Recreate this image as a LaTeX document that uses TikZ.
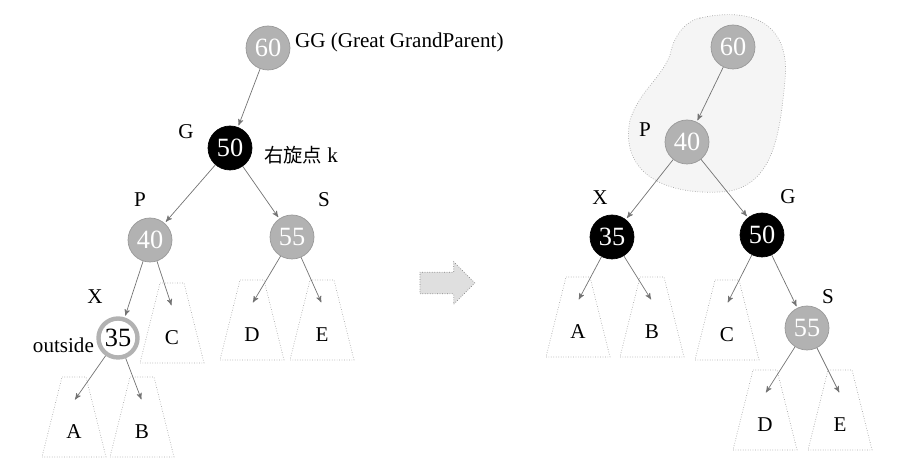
\documentclass[tikz,border=0pt]{standalone}
\usepackage{fontspec}
\setmainfont{Liberation Serif}
\newfontfamily\cjk{Noto Sans CJK SC}
\usetikzlibrary{arrows,shapes.arrows}

\newcommand{\subtree}[4]{% name, x, y (top), label
  \draw[tri] (#2-12,#3) -- (#2+12,#3) -- (#2+32,#3+80) -- (#2-32,#3+80) -- cycle;
  \node[leaf] (#1) at (#2,#3+55) {#4};
  \coordinate (#1-in) at (#2,#3+24);
}

\begin{document}
\begin{tikzpicture}[
x=0.02cm, y=-0.02cm,
every node/.style={font=\fontsize{12}{14}\selectfont},
rednode/.style={
  circle,
  draw=gray!80,
  fill=gray!60,
  text=white,
  minimum size=0.88cm,
  inner sep=0pt,
  font=\fontsize{15}{16}\selectfont
  },
blknode/.style={
  rednode,
  draw=black,
  fill=black
  },
ring/.style={
  rednode,
  draw=gray!60,
  line width=2.5pt,
  fill=white,
  text=black,
  minimum size=0.78cm
  },
tri/.style={
  draw=gray!70,
  densely dotted
  },
leaf/.style={
  inner sep=1pt
  },
lbl/.style={
  inner sep=1pt
  },
edge/.style={
  ->,
  draw=gray!90!black,
  shorten >=1pt
  },
>=stealth'
]
\useasboundingbox (0,0) rectangle (912,475);
% left tree
\subtree{ta}{74}{377}{A}
\subtree{tb}{142}{377}{B}
\subtree{tc}{172}{283}{C}
\subtree{td}{252}{280}{D}
\subtree{te}{322}{280}{E}
\node[rednode] (gg) at (268,48) {60};
\node[blknode] (g) at (230,148) {50};
\node[rednode] (p) at (150,240) {40};
\node[rednode] (s) at (292,237) {55};
\node[ring] (x) at (118,338) {35};
\node[lbl, anchor=west] (ggl) at (293,42) {GG (Great GrandParent)};
\node[lbl] (gl) at (186,132) {G};
\node[lbl, anchor=west] (kl) at (262,155) {{\cjk\fontsize{11}{13}\selectfont 右旋点} k};
\node[lbl] (pl) at (140,200) {P};
\node[lbl] (sl) at (324,200) {S};
\node[lbl] (xl) at (95,297) {X};
\node[lbl, anchor=east] (ol) at (96,345) {outside};
\draw[edge] (gg) -- (g);
\draw[edge] (g) -- (p);
\draw[edge] (g) -- (s);
\draw[edge] (p) -- (x);
\draw[edge] (p) -- (tc-in);
\draw[edge] (s) -- (td-in);
\draw[edge] (s) -- (te-in);
\draw[edge] (x) -- (ta-in);
\draw[edge] (x) -- (tb-in);
% hollow arrow
\node[single arrow, draw=gray, fill=gray!25, densely dotted, minimum height=1.1cm,
  minimum width=0.85cm, single arrow head extend=0.12cm] (arr) at (442,283) {};
% right tree
\draw[draw=gray!70, densely dotted, fill=gray!8]
  (700,18) .. controls (760,5) and (790,30) .. (785,80)
  .. controls (780,130) and (775,190) .. (720,192)
  .. controls (660,195) and (620,170) .. (630,120)
  .. controls (640,90) and (660,80) .. (670,55)
  .. controls (675,30) and (690,20) .. (700,18);
\subtree{ra}{578}{277}{A}
\subtree{rb}{652}{277}{B}
\subtree{rc}{727}{280}{C}
\subtree{rd}{765}{370}{D}
\subtree{re}{840}{370}{E}
\node[rednode] (rgg) at (733,47) {60};
\node[rednode] (rp) at (687,142) {40};
\node[blknode] (rx) at (612,237) {35};
\node[blknode] (rg) at (762,235) {50};
\node[rednode] (rs) at (807,328) {55};
\node[lbl] (rpl) at (645,130) {P};
\node[lbl] (rxl) at (600,198) {X};
\node[lbl] (rgl) at (788,197) {G};
\node[lbl] (rsl) at (828,297) {S};
\draw[edge] (rgg) -- (rp);
\draw[edge] (rp) -- (rx);
\draw[edge] (rp) -- (rg);
\draw[edge] (rx) -- (ra-in);
\draw[edge] (rx) -- (rb-in);
\draw[edge] (rg) -- (rc-in);
\draw[edge] (rg) -- (rs);
\draw[edge] (rs) -- (rd-in);
\draw[edge] (rs) -- (re-in);
\end{tikzpicture}
\end{document}
